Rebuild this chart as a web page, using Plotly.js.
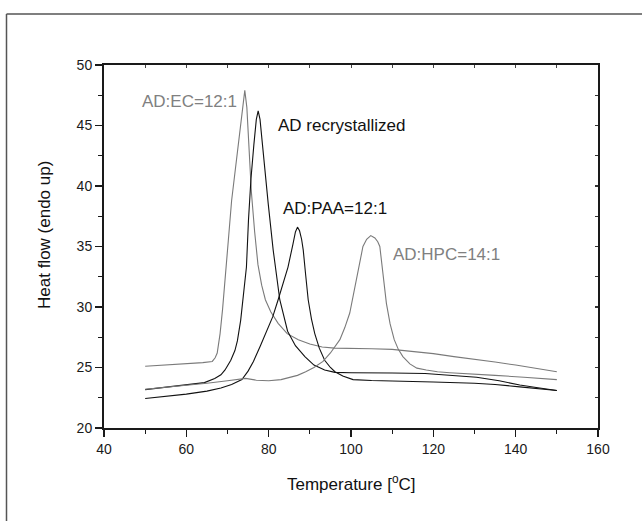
<!DOCTYPE html>
<html>
<head>
<meta charset="utf-8">
<script src="https://cdn.plot.ly/plotly-3.0.1.min.js"></script>
<style>
  html, body { margin: 0; padding: 0; background: #fff; }
  #chart { width: 642px; height: 521px; }
</style>
</head>
<body>
<div id="chart"></div>
<script>
// ---- Data (Temperature in °C, heat flow) ----
const ecX = [50,55,60,64,66.3,67.0,67.5,68.2,68.8,69.4,70.2,71.0,72.0,73.0,73.7,74.2,74.7,75.3,75.8,76.6,77.4,78.3,79.2,80.5,82.3,84.5,87.2,90,93,96,100,105,110,115,120,125,130,135,140,145,150];
const ecY = [25.1,25.2,25.3,25.4,25.5,25.8,26.2,27.8,29.8,32.0,35.5,38.8,41.6,44.3,46.6,47.9,46.5,43.0,39.5,36.2,33.5,31.8,30.6,29.6,28.65,27.8,27.3,26.95,26.7,26.6,26.6,26.55,26.5,26.35,26.15,25.9,25.7,25.45,25.2,24.95,24.65];

const recX = [50,55,60,64.4,66.9,68.4,69.4,70.8,71.8,72.4,73.2,74.0,74.6,75.1,75.7,76.4,77.0,77.45,77.9,78.5,79.2,79.9,81.1,82.7,84.6,86.5,88.8,91,93.6,96.1,100,105,110,118,125,130.5,136,141,145,150];
const recY = [23.17,23.35,23.55,23.75,24.1,24.4,24.8,25.6,26.4,27.2,28.9,31.2,33.3,37.2,40.6,43.4,45.5,46.2,45.5,43.4,40.8,38.5,34.7,30.6,28.0,26.8,25.9,25.2,24.8,24.6,24.57,24.57,24.55,24.5,24.35,24.2,23.9,23.55,23.35,23.1];

const paaX = [50,55,60,65,68.4,71,73.5,75,76.3,78,79.5,81,82.3,83.5,84.7,85.9,86.5,87.0,87.5,88.0,88.4,89.0,89.6,90.4,91.2,92.3,93.6,95,96.1,98,100.5,105,110,120,130,135,141,145,150];
const paaY = [22.44,22.62,22.8,23.05,23.3,23.6,24.0,24.7,25.5,26.8,28.0,29.2,30.6,32.0,33.3,35.2,36.2,36.6,36.3,35.6,34.7,32.6,30.6,29.0,27.8,26.6,25.6,25.0,24.65,24.3,24.0,23.92,23.9,23.8,23.7,23.6,23.4,23.25,23.1];

const hpcX = [50,55,60,65,70,73,74.4,77,80,83,85,87,89,91,93.2,95,97.3,98.5,99.7,100.5,101.3,102.1,102.9,103.8,104.8,105.8,106.5,107,107.8,108.6,109.5,110.5,111.5,112.6,114.3,116,118.3,121,124,130,135,142,150];
const hpcY = [23.2,23.35,23.5,23.7,23.9,24.05,24.1,23.95,23.9,24.0,24.15,24.35,24.65,25.0,25.5,26.2,27.3,28.3,29.5,30.9,32.5,33.9,35.0,35.6,35.9,35.7,35.4,35.0,32.5,30.3,28.6,27.3,26.5,25.9,25.3,24.95,24.8,24.65,24.57,24.42,24.35,24.2,24.0];

const seriesNames = ["AD:EC=12:1", "AD recrystallized", "AD:PAA=12:1", "AD:HPC=14:1"];
const labelX = [48.7, 81.75, 83.1, 109.6];
const labelY = [47.0, 45.0, 38.15, 34.3];

const xTicks = [40, 60, 80, 100, 120, 140, 160];
const yTicks = [20, 25, 30, 35, 40, 45, 50];

// ---- Styling ----
const FONT = "Liberation Sans, Arial, Helvetica, sans-serif";
const GRAY = "#7a7a7a";
const BLACK = "#111111";
const colors = [GRAY, BLACK, BLACK, GRAY];
const labelColors = ["#808080", "#111111", "#111111", "#808080"];

const xs = [ecX, recX, paaX, hpcX];
const ys = [ecY, recY, paaY, hpcY];

const traces = xs.map((x, i) => ({
  type: "scatter", mode: "lines", x: x, y: ys[i], name: seriesNames[i],
  line: { color: colors[i], width: 1.1 }, hoverinfo: "x+y+name"
}));
// anchor trace for the mirrored top/right tick axes
traces.push({ type: "scatter", mode: "lines", x: [], y: [], xaxis: "x2", yaxis: "y2", showlegend: false, hoverinfo: "skip" });

// plot area in pixels
const L = 104, R = 598, T = 65, B = 428;
const W = 642, H = 521;
const px2paperX = p => (p - L) / (R - L);
const px2paperY = p => (B - p) / (B - T);

const annotations = seriesNames.map((t, i) => ({
  text: t, x: labelX[i], y: labelY[i], xref: "x", yref: "y",
  xanchor: "left", yanchor: "middle", showarrow: false,
  font: { family: FONT, size: 17, color: labelColors[i] }
}));
annotations.push({
  text: "Temperature [<sup>o</sup>C]", xref: "paper", yref: "paper",
  x: 0.5, y: px2paperY(483), xanchor: "center", yanchor: "middle", showarrow: false,
  font: { family: FONT, size: 17, color: "#111" }
});
annotations.push({
  text: "Heat flow (endo up)", xref: "paper", yref: "paper",
  x: px2paperX(45), y: px2paperY(235), xanchor: "center", yanchor: "middle", showarrow: false,
  textangle: -90, font: { family: FONT, size: 17, color: "#111" }
});

const axisCommon = {
  showgrid: false, zeroline: false, showline: true, linecolor: "#1a1a1a", linewidth: 2,
  ticks: "outside", ticklen: 7, tickwidth: 1.5, tickcolor: "#1a1a1a", mirror: true,
  tickfont: { family: FONT, size: 14, color: "#1a1a1a" }
};

const layout = {
  width: W, height: H,
  margin: { l: L, r: W - R, t: T, b: H - B, pad: 0 },
  paper_bgcolor: "#ffffff", plot_bgcolor: "#ffffff",
  showlegend: false,
  font: { family: FONT },
  xaxis: Object.assign({}, axisCommon, {
    range: [40, 160], tickvals: xTicks, ticktext: xTicks.map(String),
    minor: { tickvals: [50, 70, 90, 110, 130, 150], ticks: "outside", ticklen: 4, tickwidth: 1.2, tickcolor: "#1a1a1a" }
  }),
  yaxis: Object.assign({}, axisCommon, {
    range: [20, 50], tickvals: yTicks, ticktext: yTicks.map(String),
    minor: { tickvals: [22.5, 27.5, 32.5, 37.5, 42.5, 47.5], ticks: "outside", ticklen: 4, tickwidth: 1.2, tickcolor: "#1a1a1a" }
  }),
  xaxis2: {
    overlaying: "x", side: "top", anchor: "y2", range: [40, 160], dtick: 10, tick0: 40,
    ticks: "inside", ticklen: 3, tickwidth: 1, tickcolor: "#444",
    showticklabels: false, showgrid: false, zeroline: false, showline: false
  },
  yaxis2: {
    overlaying: "y", side: "right", anchor: "x2", range: [20, 50], dtick: 2.5, tick0: 20,
    ticks: "inside", ticklen: 3, tickwidth: 1.2, tickcolor: "#333",
    showticklabels: false, showgrid: false, zeroline: false, showline: false
  },
  annotations: annotations,
  shapes: [
    { type: "line", xref: "paper", yref: "paper", x0: px2paperX(6.5), x1: px2paperX(6.5), y0: px2paperY(14), y1: px2paperY(540), line: { color: "#555", width: 1.5 } },
    { type: "line", xref: "paper", yref: "paper", x0: px2paperX(6.5), x1: px2paperX(660), y0: px2paperY(14), y1: px2paperY(14), line: { color: "#555", width: 1.5 } }
  ]
};

Plotly.newPlot("chart", traces, layout, { displayModeBar: false, staticPlot: true });
</script>
</body>
</html>
